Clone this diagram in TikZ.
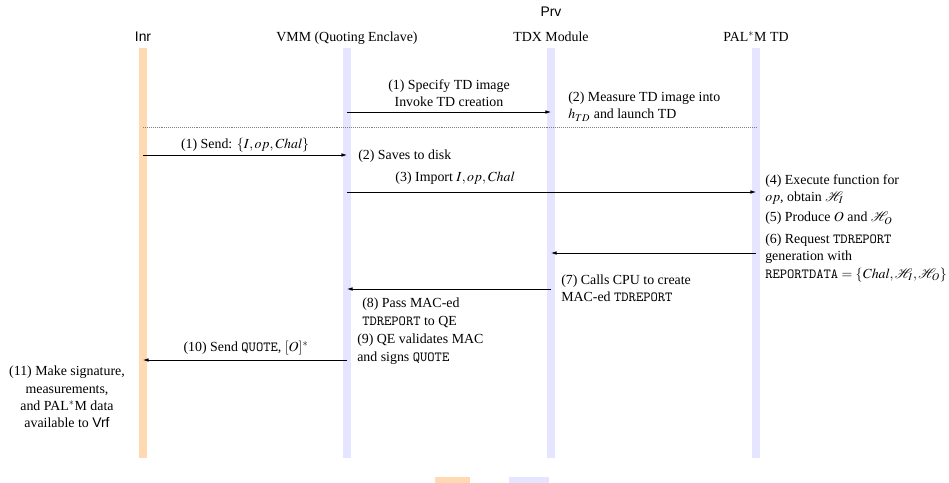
\documentclass[tikz,border=0pt]{standalone}
\usepackage{mathptmx}
\usepackage{fontspec}
\setmainfont{Liberation Serif}
\setsansfont{Liberation Sans}
\usetikzlibrary{arrows.meta}

\colorlet{inrcol}{orange!30}
\colorlet{prvcol}{blue!10}

\begin{document}
\begin{tikzpicture}[x=0.72pt, y=-0.72pt, font=\fontsize{10}{12.3}\selectfont]

	\useasboundingbox (0,0) rectangle (949,483);

	\tikzstyle{lane}=[draw=none, rectangle, inner sep=0pt, minimum width=5.8pt, minimum height=295pt]
	\tikzstyle{msg}=[-{Latex[length=4pt,width=2.6pt]}, line width=0.5pt]
	\tikzstyle{note}=[inner sep=0pt, anchor=north west, align=left]
	\tikzstyle{lbl}=[inner sep=0pt, anchor=north, align=center]
	\tikzstyle{head}=[inner sep=0pt, anchor=base]

	% lifelines
	\node[lane, fill=inrcol] (inrl) at (143,253) {};
	\node[lane, fill=prvcol] (vmml) at (347,253) {};
	\node[lane, fill=prvcol] (tdxl) at (551,253) {};
	\node[lane, fill=prvcol] (pall) at (756,253) {};

	% headers
	\node[head, font=\sffamily] (prv) at (551,17) {Prv};
	\node[head, font=\sffamily] (inr) at (143,42) {Inr};
	\node[head] (vmm) at (347,42) {VMM (Quoting Enclave)};
	\node[head] (tdx) at (551,42) {TDX Module};
	\node[head] (pal) at (756,42) {PAL$^*$M TD};

	% rows of the messages
	\coordinate (r1) at (0,112);
	\coordinate (sep) at (0,127);
	\coordinate (r3) at (0,155);
	\coordinate (r5) at (0,192);
	\coordinate (r7) at (0,253);
	\coordinate (r8) at (0,289);
	\coordinate (r10) at (0,360);

	% setup
	\draw[msg] (vmml |- r1) -- (tdxl |- r1);
	\node[lbl] (l1) at (449,79) {(1) Specify TD image\\Invoke TD creation};
	\node[note] (n2) at (568,92) {(2) Measure TD image into\\$h_{TD}$ and launch TD};

	\draw[densely dotted, gray] (inrl |- sep) -- (pall |- sep);

	% operation
	\draw[msg] (inrl |- r3) -- (vmml |- r3);
	\node[lbl] (l3) at (245,138) {(1) Send: $\{I, op, \mathit{Chal}\}$};
	\node[note] (n3) at (358,150) {(2) Saves to disk};

	\draw[msg] (vmml |- r5) -- (pall |- r5);
	\node[lbl] (l5) at (455,172) {(3) Import $I, op, \mathit{Chal}$};
	\node[note] (n4) at (765,174) {(4) Execute function for\\$op$, obtain $\mathcal{H}_I$};
	\node[note] (n5) at (765,212) {(5) Produce $O$ and $\mathcal{H}_O$};
	\node[note] (n6) at (765,234) {(6) Request \texttt{TDREPORT}\\generation with\\\texttt{REPORTDATA} $=\{\mathit{Chal}, \mathcal{H}_I, \mathcal{H}_O\}$};

	\draw[msg] (pall |- r7) -- (tdxl |- r7);
	\node[note] (n7) at (561,275) {(7) Calls CPU to create\\MAC-ed \texttt{TDREPORT}};

	\draw[msg] (tdxl |- r8) -- (vmml |- r8);
	\node[note] (n8) at (362,298) {(8) Pass MAC-ed\\\texttt{TDREPORT} to QE};
	\node[note] (n9) at (357,334) {(9) QE validates MAC\\and signs \texttt{QUOTE}};

	\draw[msg] (vmml |- r10) -- (inrl |- r10);
	\node[lbl] (l10) at (246,341) {(10) Send \texttt{QUOTE}, $[O]^*$};
	\node[lbl] (n11) at (67,366) {(11) Make signature,\\measurements,\\and PAL$^*$M data\\available to \textsf{Vrf}};

	% legend
	\fill[inrcol] (435,477) rectangle (470,483);
	\fill[prvcol] (509,477) rectangle (549,483);

\end{tikzpicture}
\end{document}
